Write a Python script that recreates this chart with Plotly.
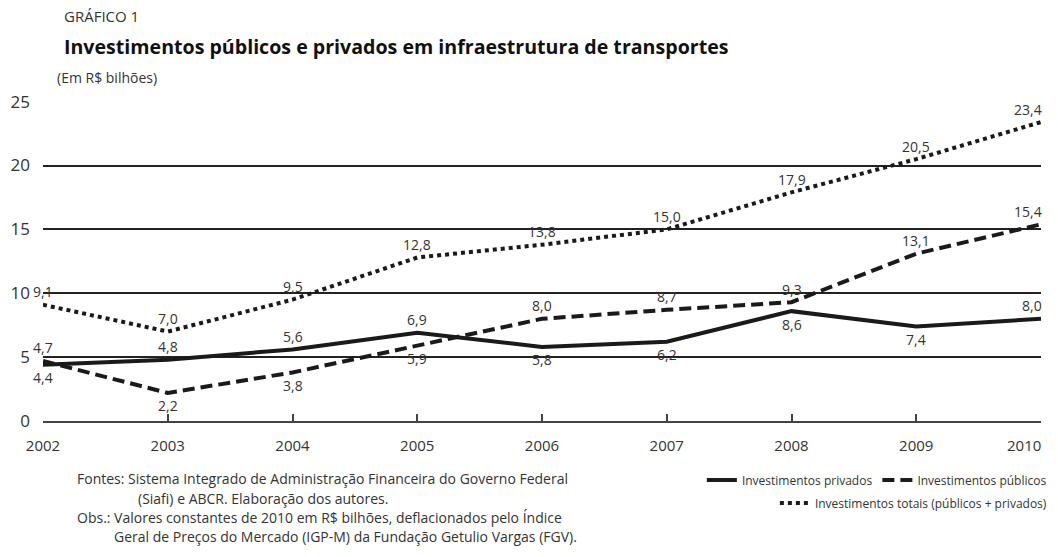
import plotly.graph_objects as go

anos = [2002, 2003, 2004, 2005, 2006, 2007, 2008, 2009, 2010]
privados = [4.4, 4.8, 5.6, 6.9, 5.8, 6.2, 8.6, 7.4, 8.0]
publicos = [4.7, 2.2, 3.8, 5.9, 8.0, 8.7, 9.3, 13.1, 15.4]
totais = [9.1, 7.0, 9.5, 12.8, 13.8, 15.0, 17.9, 20.5, 23.4]

# +1 = label above the line, -1 = below
lado_privados = [-1, 1, 1, 1, -1, -1, -1, -1, 1]
lado_publicos = [1, -1, -1, -1, 1, 1, 1, 1, 1]
lado_totais = [1] * 9


def fmt(v):
    return f"{v:.1f}".replace(".", ",")


FONT = "Open Sans, sans-serif"
INK = "#1a1a1a"
TXT = "#333333"

W, H = 1058, 557
ML, MR, MT, MB = 43, 6, 101, 136
PW, PH = W - ML - MR, H - MT - MB


def px_to_paper(x, y):
    return (x - ML) / PW, (H - MB - y) / PH


fig = go.Figure()

series = [
    ("Investimentos privados", privados, lado_privados, "solid", "legend"),
    ("Investimentos públicos", publicos, lado_publicos, "12px,6px", "legend"),
    ("Investimentos totais (públicos + privados)", totais, lado_totais, "4px,4px", "legend2"),
]
for name, vals, lados, dash, leg in series:
    fig.add_trace(go.Scatter(
        x=anos, y=vals,
        name=name,
        mode="lines",
        line=dict(color=INK, width=4, dash=dash),
        cliponaxis=False,
        legend=leg,
    ))
    # --- DATA LABELS ---
    for ano, v, lado in zip(anos, vals, lados):
        ultimo = ano == anos[-1]
        fig.add_annotation(
            x=ano, y=v, text=fmt(v), showarrow=False,
            xanchor="right" if ultimo else "center", yanchor="middle",
            xshift=3 if ultimo else 0, yshift=13 * lado,
            font=dict(size=14, color=TXT, family=FONT),
        )

# last year label sits left of its tick so it stays inside the page
_, y_tick = px_to_paper(0, 445)
fig.add_annotation(x=anos[-1], y=y_tick, xref="x", yref="paper", text=str(anos[-1]),
                   showarrow=False, xanchor="right", yanchor="middle", xshift=2,
                   font=dict(size=15, color=TXT, family=FONT))

# --- TITLES ---
titulos = [
    ("GRÁFICO 1", 62, 16, 15, TXT),
    ("<b>Investimentos públicos e privados em infraestrutura de transportes</b>", 62, 46, 19.6, "#111111"),
    ("(Em R$ bilhões)", 55, 77, 14, TXT),
]
for txt, px, py, size, color in titulos:
    ax, ay = px_to_paper(px, py)
    fig.add_annotation(x=ax, y=ay, xref="paper", yref="paper", text=txt,
                       showarrow=False, xanchor="left", yanchor="middle",
                       font=dict(size=size, color=color, family=FONT))

notas = [
    ("Fontes: Sistema Integrado de Administração Financeira do Governo Federal", 75, 478),
    ("(Siafi) e ABCR. Elaboração dos autores.", 137, 498),
    ("Obs.: Valores constantes de 2010 em R$ bilhões, deflacionados pelo Índice", 75, 517),
    ("Geral de Preços do Mercado (IGP-M) da Fundação Getulio Vargas (FGV).", 113, 536),
]
for txt, px, py in notas:
    ax, ay = px_to_paper(px, py)
    fig.add_annotation(x=ax, y=ay, xref="paper", yref="paper", text=txt,
                       showarrow=False, xanchor="left", yanchor="middle",
                       font=dict(size=14, color=TXT, family=FONT))

lx, ly1 = px_to_paper(1063, 480)
_, ly2 = px_to_paper(1063, 503)

fig.update_layout(
    width=W, height=H,
    margin=dict(l=ML, r=MR, t=MT, b=MB),
    paper_bgcolor="white",
    plot_bgcolor="white",
    font=dict(family=FONT, color=TXT, size=14),
    legend=dict(orientation="h", x=lx, y=ly1, xanchor="right", yanchor="middle",
                font=dict(size=12, color=TXT, family=FONT), bgcolor="rgba(0,0,0,0)",
                itemwidth=30),
    legend2=dict(orientation="h", x=lx, y=ly2, xanchor="right", yanchor="middle",
                 font=dict(size=12, color=TXT, family=FONT), bgcolor="rgba(0,0,0,0)",
                 itemwidth=30),
    showlegend=True,
)

fig.update_xaxes(
    range=[2002, 2010], tickvals=anos,
    ticktext=[str(a) for a in anos[:-1]] + [""],
    showgrid=False, zeroline=False,
    showline=True, linecolor="#444444", linewidth=1.5,
    ticks="inside", ticklen=7, tickcolor="#444444", tickwidth=1.5,
    tickfont=dict(size=15, color=TXT, family=FONT), ticklabelstandoff=10,
)
fig.update_yaxes(
    range=[0, 25.05], tickvals=[0, 5, 10, 15, 20, 25],
    showgrid=True, gridcolor="#222222", gridwidth=1.5,
    zeroline=False, showline=False, ticks="",
    tickfont=dict(size=17, color=TXT, family=FONT), ticklabelstandoff=12,
)

fig.write_html("out.html", config={"displayModeBar": False},
               post_script="document.body.style.margin='0';")
